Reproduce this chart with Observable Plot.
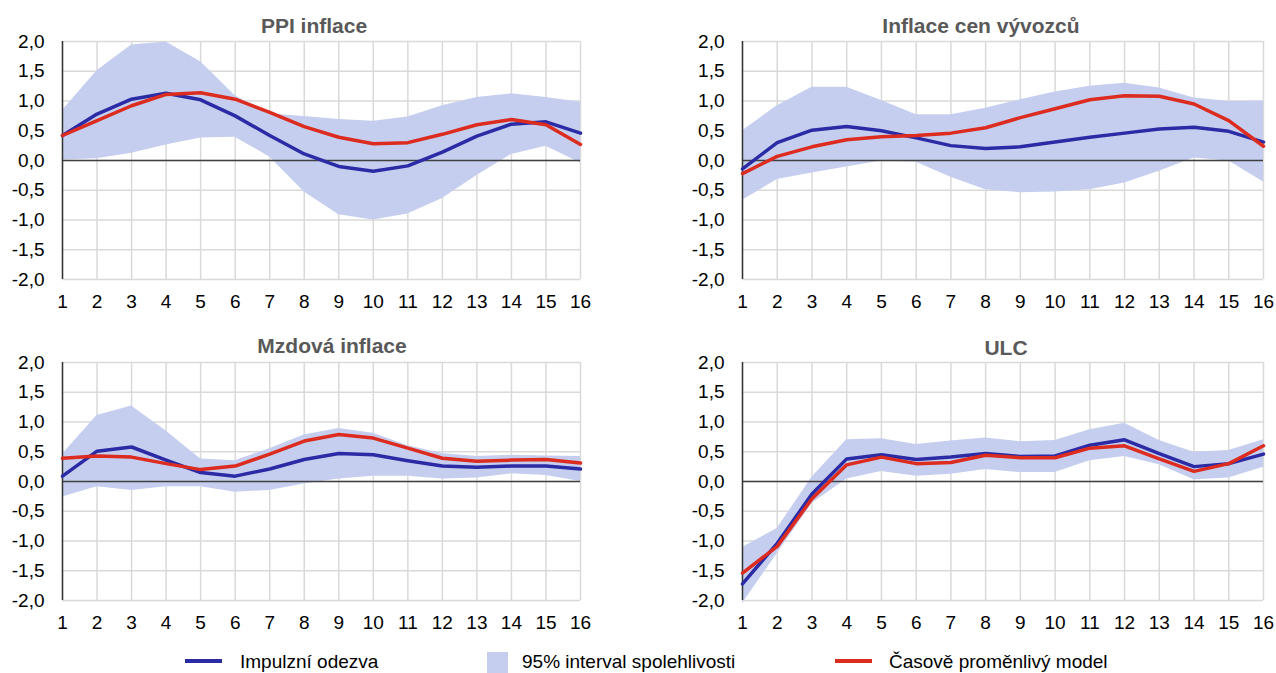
<!DOCTYPE html>
<html>
<head>
<meta charset="utf-8">
<script src="https://cdn.jsdelivr.net/npm/d3@7"></script>
<script src="https://cdn.jsdelivr.net/npm/@observablehq/plot@0.6"></script>
<style>
  html, body { margin: 0; padding: 0; background: #fff; }
  #root { position: relative; width: 1276px; height: 673px; overflow: hidden; font-family: "Liberation Sans", Arial, sans-serif; }
  .panel { position: absolute; }
  .title { position: absolute; font-weight: bold; font-size: 21px; line-height: 24px; color: #595959; text-align: center; white-space: nowrap; }
  .legend { position: absolute; top: 650px; left: 0; width: 1276px; height: 23px; font-size: 19px; line-height: 22px; color: #000; }
  .legend span { position: absolute; white-space: nowrap; }
</style>
</head>
<body>
<div id="root"></div>
<script>
// ---- data ----
const horizons = [1, 2, 3, 4, 5, 6, 7, 8, 9, 10, 11, 12, 13, 14, 15, 16];
const yTicks = [-2, -1.5, -1, -0.5, 0, 0.5, 1, 1.5, 2];

const panelTitles = ["PPI inflace", "Inflace cen vývozců", "Mzdová inflace", "ULC"];
const seriesNames = ["Impulzní odezva", "95% interval spolehlivosti", "Časově proměnlivý model"];

// PPI inflace
const ppiImpulse = [0.42, 0.78, 1.03, 1.13, 1.02, 0.75, 0.42, 0.11, -0.10, -0.18, -0.09, 0.14, 0.41, 0.61, 0.65, 0.46];
const ppiTimeVarying = [0.42, 0.67, 0.92, 1.11, 1.14, 1.03, 0.81, 0.57, 0.39, 0.28, 0.30, 0.44, 0.60, 0.69, 0.60, 0.27];
const ppiUpper = [0.84, 1.51, 1.94, 1.99, 1.66, 1.09, 0.78, 0.74, 0.69, 0.66, 0.73, 0.92, 1.06, 1.12, 1.06, 0.98];
const ppiLower = [0.01, 0.03, 0.12, 0.26, 0.38, 0.39, 0.06, -0.53, -0.91, -1.00, -0.90, -0.64, -0.25, 0.10, 0.24, -0.04];

// Inflace cen vývozců
const expImpulse = [-0.14, 0.30, 0.51, 0.57, 0.50, 0.38, 0.25, 0.20, 0.23, 0.31, 0.39, 0.46, 0.53, 0.56, 0.49, 0.31];
const expTimeVarying = [-0.22, 0.07, 0.23, 0.35, 0.40, 0.42, 0.46, 0.55, 0.72, 0.87, 1.02, 1.09, 1.08, 0.95, 0.67, 0.24];
const expUpper = [0.50, 0.92, 1.23, 1.23, 1.01, 0.77, 0.77, 0.88, 1.02, 1.15, 1.25, 1.30, 1.22, 1.05, 0.99, 1.00];
const expLower = [-0.67, -0.32, -0.21, -0.11, -0.01, -0.03, -0.28, -0.49, -0.54, -0.53, -0.49, -0.38, -0.18, 0.04, -0.01, -0.36];

// Mzdová inflace
const wageImpulse = [0.09, 0.51, 0.58, 0.36, 0.15, 0.09, 0.21, 0.37, 0.47, 0.45, 0.35, 0.26, 0.24, 0.26, 0.26, 0.21];
const wageTimeVarying = [0.39, 0.43, 0.41, 0.30, 0.20, 0.26, 0.46, 0.68, 0.79, 0.73, 0.56, 0.39, 0.34, 0.36, 0.37, 0.31];
const wageUpper = [0.46, 1.11, 1.27, 0.85, 0.38, 0.35, 0.55, 0.78, 0.89, 0.81, 0.60, 0.47, 0.42, 0.44, 0.43, 0.42];
const wageLower = [-0.26, -0.09, -0.15, -0.09, -0.09, -0.18, -0.15, -0.04, 0.04, 0.09, 0.09, 0.04, 0.06, 0.13, 0.10, 0.00];

// ULC
const ulcImpulse = [-1.72, -1.04, -0.21, 0.38, 0.45, 0.37, 0.41, 0.47, 0.42, 0.43, 0.61, 0.70, 0.47, 0.25, 0.30, 0.46];
const ulcTimeVarying = [-1.54, -1.09, -0.29, 0.28, 0.41, 0.30, 0.32, 0.44, 0.40, 0.40, 0.56, 0.60, 0.38, 0.17, 0.30, 0.60];
const ulcUpper = [-1.11, -0.79, 0.07, 0.70, 0.72, 0.62, 0.68, 0.73, 0.67, 0.69, 0.87, 0.98, 0.69, 0.49, 0.52, 0.70];
const ulcLower = [-2.05, -1.21, -0.37, 0.04, 0.17, 0.09, 0.12, 0.20, 0.15, 0.15, 0.35, 0.42, 0.28, 0.03, 0.06, 0.24];

// ---- styles ----
const BLUE = "#2b2ba6";
const RED = "#dc2b1f";
const BAND = "#c5ceee";
const GRID = "#d9d9d9";

const fmt = d => d.toFixed(1).replace(".", ",");

const panels = [
  {title: panelTitles[0], impulse: ppiImpulse, tv: ppiTimeVarying, lo: ppiLower, hi: ppiUpper,
   left: 0, top: 0, width: 640, mL: 62, mR: 60, mT: 41, mB: 41, titleCx: 314, titleTop: 14},
  {title: panelTitles[1], impulse: expImpulse, tv: expTimeVarying, lo: expLower, hi: expUpper,
   left: 640, top: 0, width: 636, mL: 102, mR: 13, mT: 41, mB: 41, titleCx: 981, titleTop: 14},
  {title: panelTitles[2], impulse: wageImpulse, tv: wageTimeVarying, lo: wageLower, hi: wageUpper,
   left: 0, top: 320, width: 640, mL: 62, mR: 60, mT: 42, mB: 40, titleCx: 332, titleTop: 334},
  {title: panelTitles[3], impulse: ulcImpulse, tv: ulcTimeVarying, lo: ulcLower, hi: ulcUpper,
   left: 640, top: 320, width: 636, mL: 102, mR: 13, mT: 42, mB: 40, titleCx: 1006, titleTop: 336}
];

const root = document.getElementById("root");

for (const p of panels) {
  const rows = horizons.map((h, i) => ({h, impulse: p.impulse[i], tv: p.tv[i], lo: p.lo[i], hi: p.hi[i]}));
  const chart = Plot.plot({
    width: p.width,
    height: 320,
    marginLeft: p.mL,
    marginRight: p.mR,
    marginTop: p.mT,
    marginBottom: p.mB,
    style: {fontFamily: "'Liberation Sans', Arial, sans-serif", fontSize: "19px", color: "#000", background: "transparent", overflow: "visible"},
    x: {domain: [1, 16], ticks: horizons, tickFormat: d => String(d), tickSize: 0, tickPadding: 15, label: null},
    y: {domain: [-2, 2], ticks: yTicks, tickFormat: fmt, tickSize: 0, tickPadding: 18, label: null},
    marks: [
      Plot.gridX(horizons, {stroke: GRID, strokeOpacity: 1, strokeWidth: 1.5}),
      Plot.gridY(yTicks, {stroke: GRID, strokeOpacity: 1, strokeWidth: 1.5}),
      Plot.areaY(rows, {x: "h", y1: "lo", y2: "hi", fill: BAND, fillOpacity: 1}),
      Plot.ruleY([0], {stroke: "#404040", strokeWidth: 1.5}),
      Plot.ruleX([1], {stroke: "#333", strokeWidth: 1.5}),
      Plot.lineY(rows, {x: "h", y: "impulse", stroke: BLUE, strokeWidth: 3.5}),
      Plot.lineY(rows, {x: "h", y: "tv", stroke: RED, strokeWidth: 3.5})
    ]
  });
  const wrap = document.createElement("div");
  wrap.className = "panel";
  wrap.style.left = p.left + "px";
  wrap.style.top = p.top + "px";
  wrap.appendChild(chart);
  root.appendChild(wrap);

  const t = document.createElement("div");
  t.className = "title";
  t.textContent = p.title;
  t.style.left = (p.titleCx - 150) + "px";
  t.style.width = "300px";
  t.style.top = p.titleTop + "px";
  root.appendChild(t);
}

// legend
const legend = document.createElement("div");
legend.className = "legend";
legend.innerHTML =
  `<span style="left:185px;top:9px;width:37px;height:4px;background:${BLUE}"></span>` +
  `<span style="left:240px;top:1px">${seriesNames[0]}</span>` +
  `<span style="left:487px;top:2px;width:21px;height:21px;background:${BAND}"></span>` +
  `<span style="left:522px;top:1px">${seriesNames[1]}</span>` +
  `<span style="left:835px;top:9px;width:37px;height:4px;background:${RED}"></span>` +
  `<span style="left:889px;top:1px">${seriesNames[2]}</span>`;
root.appendChild(legend);
</script>
</body>
</html>
